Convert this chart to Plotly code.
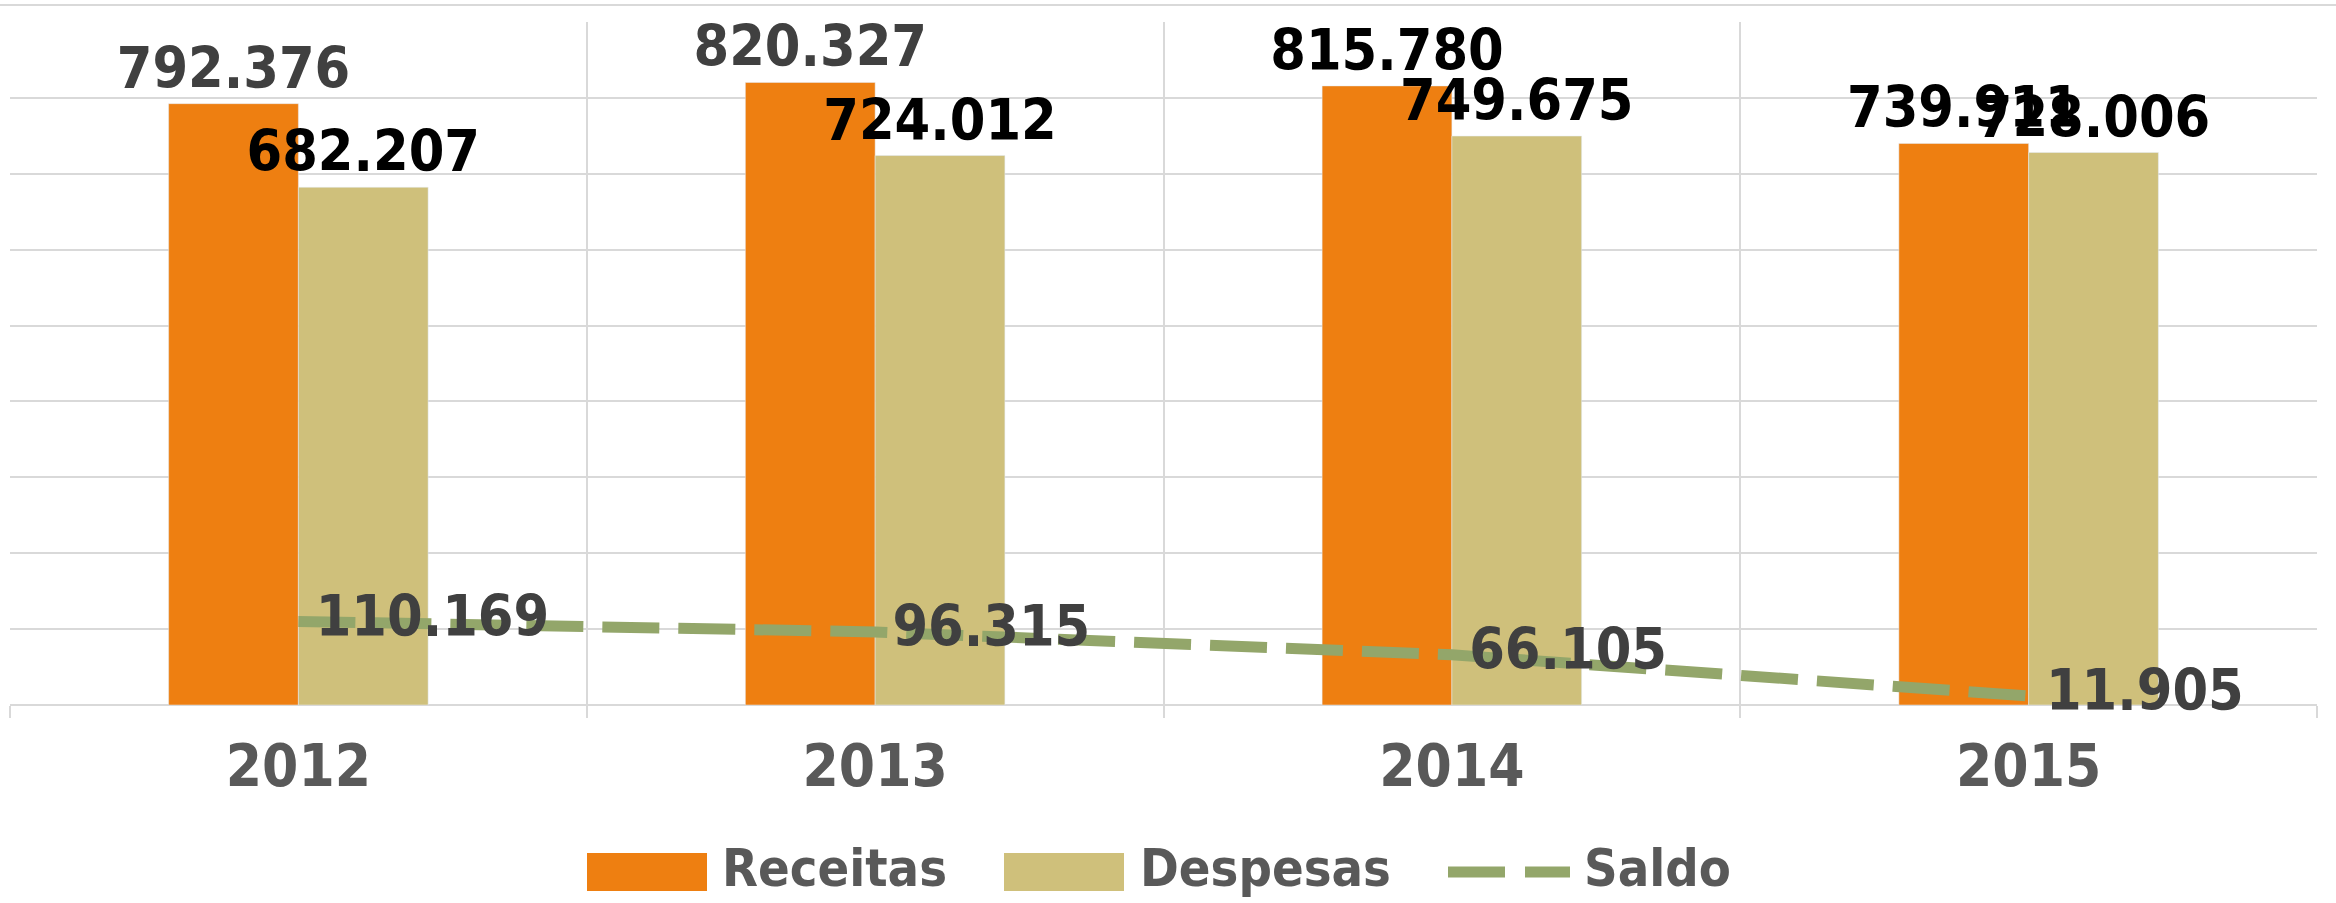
import plotly.graph_objects as go

years = ["2012", "2013", "2014", "2015"]
receitas = [792.376, 820.327, 815.780, 739.911]
despesas = [682.207, 724.012, 749.675, 728.006]
saldo = [110.169, 96.315, 66.105, 11.905]
legend_names = ["Receitas", "Despesas", "Saldo"]

FONT = "DejaVu Sans Condensed, Liberation Sans Narrow, sans-serif"
ORANGE = "#EE7F11"
KHAKI = "#CFC07B"
GREEN = "#93A66A"
GRID = "#D9D9D9"
LABEL_SIZE = 57

W, H = 2336, 903
ML, MR, MT, MB = 10, 19, 22, 198
PW = W - ML - MR
PH = H - MT - MB


def px(x):
    return (x - ML) / PW


def py(y):
    return (H - MB - y) / PH


fig = go.Figure()
fig.add_trace(go.Bar(
    x=years, y=receitas, name=legend_names[0], marker_color=ORANGE,
    texttemplate="%{y:.3f}", textposition="outside", constraintext="none",
    textfont=dict(family=FONT, size=LABEL_SIZE, weight="bold",
                  color=["#404040", "#404040", "#000000", "#000000"]),
    cliponaxis=False, showlegend=False,
))
fig.add_trace(go.Bar(
    x=years, y=despesas, name=legend_names[1], marker_color=KHAKI,
    texttemplate="%{y:.3f}", textposition="outside", constraintext="none",
    textfont=dict(family=FONT, size=LABEL_SIZE, weight="bold", color="#000000"),
    cliponaxis=False, showlegend=False,
))
fig.add_trace(go.Scatter(
    x=years, y=saldo, name=legend_names[2], mode="lines+markers+text",
    line=dict(color=GREEN, width=11, dash="57px,19px"),
    marker=dict(size=26, color="rgba(0,0,0,0)"),
    texttemplate="%{y:.3f}", textposition="middle right",
    textfont=dict(family=FONT, size=LABEL_SIZE, weight="bold", color="#404040"),
    cliponaxis=False, showlegend=False,
))

shapes = [
    dict(type="line", xref="paper", yref="paper", x0=px(0), x1=px(W), y0=py(5), y1=py(5),
         line=dict(color=GRID, width=2)),
    dict(type="rect", xref="paper", yref="paper", x0=px(587), x1=px(707), y0=py(891), y1=py(853),
         fillcolor=ORANGE, line=dict(width=0)),
    dict(type="rect", xref="paper", yref="paper", x0=px(1004), x1=px(1124), y0=py(891), y1=py(853),
         fillcolor=KHAKI, line=dict(width=0)),
    dict(type="line", xref="paper", yref="paper", x0=px(1448), x1=px(1505), y0=py(872), y1=py(872),
         line=dict(color=GREEN, width=11)),
    dict(type="line", xref="paper", yref="paper", x0=px(1525), x1=px(1570), y0=py(872), y1=py(872),
         line=dict(color=GREEN, width=11)),
]
annotations = []
for name, xl in zip(legend_names, [720, 1138, 1582]):
    annotations.append(dict(
        text=name, xref="paper", yref="paper", x=px(xl), y=py(868),
        xanchor="left", yanchor="middle", showarrow=False,
        font=dict(family=FONT, size=52, weight="bold", color="#595959"),
    ))

fig.update_layout(
    width=W, height=H,
    margin=dict(l=ML, r=MR, t=MT, b=MB),
    paper_bgcolor="white", plot_bgcolor="white",
    barmode="group", bargap=0.55, bargroupgap=0,
    shapes=shapes, annotations=annotations,
    showlegend=False,
    xaxis=dict(
        type="category", categoryorder="array", categoryarray=years,
        range=[-0.5, 3.5], tickson="boundaries",
        showgrid=True, gridcolor=GRID, gridwidth=2,
        ticks="outside", ticklen=12, tickcolor=GRID, tickwidth=2,
        ticklabelstandoff=22,
        tickfont=dict(family=FONT, size=58, weight="bold", color="#595959"),
        showline=False, zeroline=False,
    ),
    yaxis=dict(
        range=[0, 900], dtick=100, showticklabels=False,
        showgrid=True, gridcolor=GRID, gridwidth=2,
        zeroline=True, zerolinecolor=GRID, zerolinewidth=2,
        showline=False,
    ),
)

fig.write_html("out.html")
